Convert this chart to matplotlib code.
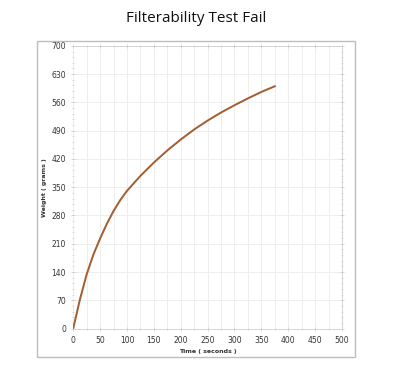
import numpy as np
from matplotlib import pyplot as plt
from matplotlib.patches import Rectangle
from matplotlib.ticker import MultipleLocator

# readings
time_s = [0, 12.5, 25, 37.5, 50, 62.5, 75, 87.5, 100, 125, 150, 175, 200,
          225, 250, 275, 300, 325, 350, 375]
weight_g = [0, 72, 134, 183, 223, 259, 291, 318, 341, 378, 411, 441, 468,
            493, 515, 535, 553, 570, 586, 600]

title = 'Filterability Test Fail'
xlabel = 'Time ( seconds )'
ylabel = 'Weight ( grams )'

def main():
    fig = plt.figure(figsize=(4.0, 3.7), dpi=100)
    fig.text(0.49, 0.951, title, ha='center', va='center',
             fontsize=11, family='Open Sans', color='#111111')
    fig.patches.append(Rectangle((0.0925, 0.035), 0.795, 0.854, transform=fig.transFigure,
                                 fill=False, edgecolor='#bdbdbd', linewidth=1.0))

    ax = fig.add_axes([0.183, 0.112, 0.672, 0.764])
    ax.plot(time_s, weight_g, color='#b2542c', linewidth=1.4)
    ax.plot(time_s, weight_g, color='#7f7a3c', linewidth=0.7, alpha=0.55)

    ax.set_xlim(0, 500)
    ax.set_ylim(0, 700)
    ax.xaxis.set_major_locator(MultipleLocator(50))
    ax.xaxis.set_minor_locator(MultipleLocator(25))
    ax.yaxis.set_major_locator(MultipleLocator(70))
    ax.yaxis.set_minor_locator(MultipleLocator(14))

    ax.grid(True, which='major', axis='y', color='#eeeeee', linewidth=0.7)
    ax.grid(True, which='both', axis='x', color='#eeeeee', linewidth=0.7)
    ax.set_axisbelow(True)
    for s in ax.spines.values():
        s.set_color('#d4d4d4')
        s.set_linewidth(0.7)
    ax.spines['left'].set_visible(False)
    ax.tick_params(which='both', direction='inout', colors='#c4c4c4',
                   top=True, right=True, labelsize=5.5, labelcolor='#333333')
    ax.tick_params(which='major', length=3.5, width=0.5)
    ax.tick_params(which='minor', length=2, width=0.4)

    ax.set_xlabel(xlabel, fontsize=4.5, fontweight='bold', color='#333333', labelpad=3)
    ax.set_ylabel(ylabel, fontsize=4.5, fontweight='bold', color='#333333', labelpad=3)

    fig.savefig('out.png', dpi=100)

if __name__ == "__main__":
    main()
